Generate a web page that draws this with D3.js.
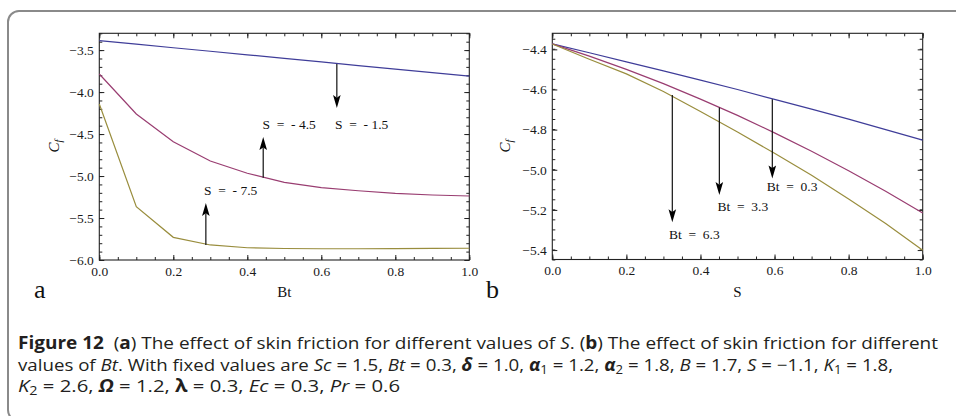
<!DOCTYPE html>
<html><head><meta charset="utf-8">
<script src="https://cdn.jsdelivr.net/npm/d3@7"></script>
<style>
html,body{margin:0;padding:0;background:#fff;}
svg{display:block;}
</style></head>
<body>
<svg id="c" width="956" height="416"></svg>
<script>
// ---------- data ----------
const btValues = [0,0.1,0.2,0.3,0.4,0.5,0.6,0.7,0.8,0.9,1.0];
const cfS15 = [-3.388,-3.430,-3.472,-3.514,-3.556,-3.598,-3.641,-3.684,-3.726,-3.768,-3.809];
const cfS45 = [-3.785,-4.261,-4.591,-4.821,-4.967,-5.075,-5.139,-5.175,-5.206,-5.226,-5.238];
const cfS75 = [-4.142,-5.365,-5.730,-5.821,-5.854,-5.863,-5.866,-5.866,-5.864,-5.862,-5.860];

const sValues = [0,0.1,0.2,0.3,0.4,0.5,0.6,0.7,0.8,0.9,1.0];
const cfBt03 = [-4.373,-4.417,-4.462,-4.507,-4.553,-4.600,-4.649,-4.698,-4.748,-4.800,-4.852];
const cfBt33 = [-4.373,-4.434,-4.500,-4.571,-4.648,-4.729,-4.816,-4.908,-5.005,-5.107,-5.215];
const cfBt63 = [-4.373,-4.449,-4.522,-4.610,-4.710,-4.812,-4.918,-5.027,-5.145,-5.268,-5.401];

const aXTicks = [0,0.2,0.4,0.6,0.8,1.0];
const aYTicks = [-6.0,-5.5,-5.0,-4.5,-4.0,-3.5];
const bXTicks = [0,0.2,0.4,0.6,0.8,1.0];
const bYTicks = [-5.4,-5.2,-5.0,-4.8,-4.6,-4.4];

const seriesColors = ["#3f3d99","#993d71","#998d3d"];

// annotations (data coordinates)
const aArrows = [
  {x:0.642, from:-3.665, to:-4.19},
  {x:0.443, from:-5.02, to:-4.535},
  {x:0.288, from:-5.82, to:-5.32}
];
const aNotes = [
  {x:0.637, y:-4.44, t:"S  =  - 1.5"},
  {x:0.441, y:-4.44, t:"S  =  - 4.5"},
  {x:0.283, y:-5.225, t:"S  =  - 7.5"}
];
const bArrows = [
  {x:0.594, from:-4.649, to:-5.043},
  {x:0.451, from:-4.690, to:-5.126},
  {x:0.324, from:-4.628, to:-5.262}
];
const bNotes = [
  {x:0.579, y:-5.107, t:"Bt  =  0.3"},
  {x:0.446, y:-5.207, t:"Bt  =  3.3"},
  {x:0.315, y:-5.345, t:"Bt  =  6.3"}
];

// ---------- drawing ----------
const svg = d3.select("#c");
const serif = '"Liberation Serif","Times New Roman",serif';

svg.append("rect").attr("x",8).attr("y",11).attr("width",980).attr("height",410)
  .attr("rx",11).attr("fill","none").attr("stroke","#8a8a8a").attr("stroke-width",2);

function range(a,b,step){const r=[];for(let v=a;v<=b+1e-9;v+=step)r.push(+v.toFixed(4));return r;}

function styleAxis(sel){
  sel.attr("font-family",serif).attr("font-size",13.5);
  sel.selectAll("text").style("font-family",serif).style("font-size","13.5px").attr("fill","#1a1a1a");
  sel.selectAll("line").attr("stroke","#222");
  sel.select(".domain").remove();
}

function panel(opt){
  const x = d3.scaleLinear().domain([0,1]).range(opt.xr);
  const y = d3.scaleLinear().domain(opt.yd).range(opt.yr);
  const g = svg.append("g");
  const [x0,x1]=opt.xr, [y0,y1]=[opt.yr[1],opt.yr[0]];
  const fmt = d3.format(".1f");
  const mfmt = v => (v<0?"\u2212":"")+fmt(Math.abs(v));
  const minorX = range(0,1,opt.xMinor);
  const minorY = range(opt.yd[0],opt.yd[1],opt.yMinor).filter(v=>v>=opt.yd[0]&&v<=opt.yd[1]);

  // minor ticks
  g.append("g").attr("transform",`translate(0,${y1})`)
    .call(d3.axisBottom(x).tickValues(minorX).tickSize(-3).tickSizeOuter(0).tickFormat("")).call(styleAxis);
  g.append("g").attr("transform",`translate(0,${y0})`)
    .call(d3.axisTop(x).tickValues(minorX).tickSize(-3).tickSizeOuter(0).tickFormat("")).call(styleAxis);
  g.append("g").attr("transform",`translate(${x0},0)`)
    .call(d3.axisLeft(y).tickValues(minorY).tickSize(-3).tickSizeOuter(0).tickFormat("")).call(styleAxis);
  g.append("g").attr("transform",`translate(${x1},0)`)
    .call(d3.axisRight(y).tickValues(minorY).tickSize(-3).tickSizeOuter(0).tickFormat("")).call(styleAxis);
  // major ticks
  g.append("g").attr("transform",`translate(0,${y1})`)
    .call(d3.axisBottom(x).tickValues(opt.xTicks).tickSize(-5).tickSizeOuter(0).tickPadding(6).tickFormat(fmt)).call(styleAxis);
  g.append("g").attr("transform",`translate(0,${y0})`)
    .call(d3.axisTop(x).tickValues(opt.xTicks).tickSize(-5).tickSizeOuter(0).tickFormat("")).call(styleAxis);
  g.append("g").attr("transform",`translate(${x0},0)`)
    .call(d3.axisLeft(y).tickValues(opt.yTicks).tickSize(-5).tickSizeOuter(0).tickPadding(5.5).tickFormat(mfmt)).call(styleAxis);
  g.append("g").attr("transform",`translate(${x1},0)`)
    .call(d3.axisRight(y).tickValues(opt.yTicks).tickSize(-5).tickSizeOuter(0).tickFormat("")).call(styleAxis);

  // frame
  g.append("rect").attr("x",x0).attr("y",y0).attr("width",x1-x0).attr("height",y1-y0)
    .attr("fill","none").attr("stroke","#222").attr("stroke-width",1.1);

  // lines
  const line = d3.line().x((d,i)=>x(opt.xs[i])).y(d=>y(d));
  opt.series.forEach((s,i)=>{
    g.append("path").attr("d",line(s)).attr("fill","none")
      .attr("stroke",seriesColors[i]).attr("stroke-width",1.2);
  });

  // arrows
  opt.arrows.forEach(a=>{
    const ax=x(a.x), ya=y(a.from), yb=y(a.to);
    const dir = yb>ya?1:-1;
    const hl=13, hw=3.8;
    g.append("line").attr("x1",ax).attr("x2",ax).attr("y1",ya).attr("y2",yb-dir*hl*0.8)
      .attr("stroke","#111").attr("stroke-width",1.2);
    g.append("path").attr("d",`M${ax},${yb}L${ax-hw},${yb-dir*hl}L${ax},${yb-dir*hl*0.8}L${ax+hw},${yb-dir*hl}Z`)
      .attr("fill","#000");
  });
  opt.notes.forEach(n=>{
    g.append("text").attr("x",x(n.x)).attr("y",y(n.y)).text(n.t)
      .attr("font-family",serif).attr("font-size",13.5).attr("fill","#111")
      .attr("xml:space","preserve");
  });

  // axis titles
  g.append("text").attr("x",(x0+x1)/2).attr("y",297).attr("text-anchor","middle")
    .attr("font-family",serif).attr("font-size",15).attr("fill","#111").text(opt.xLabel);
  const yl = g.append("text").attr("transform",`translate(${opt.ylx},146) rotate(-90)`)
    .attr("text-anchor","middle").attr("font-family",serif).attr("font-size",15)
    .attr("font-style","italic").attr("fill","#111");
  yl.append("tspan").text("C");
  yl.append("tspan").attr("font-size",10.5).attr("dy",3).text("f");
  g.append("text").attr("x",opt.letterX).attr("y",298).attr("font-family",serif)
    .attr("font-size",26).attr("fill","#111").text(opt.letter);
}

panel({xr:[99.3,469.3], yr:[260,33.3], yd:[-6.0,-3.3], xTicks:aXTicks, yTicks:aYTicks,
  xMinor:0.05, yMinor:0.1, xs:btValues, series:[cfS15,cfS45,cfS75],
  arrows:aArrows, notes:aNotes, xLabel:"Bt", ylx:59, letter:"a", letterX:34});
panel({xr:[552.3,922.7], yr:[259.5,33.3], yd:[-5.447,-4.32], xTicks:bXTicks, yTicks:bYTicks,
  xMinor:0.05, yMinor:0.05, xs:sValues, series:[cfBt03,cfBt33,cfBt63],
  arrows:bArrows, notes:bNotes, xLabel:"S", ylx:510, letter:"b", letterX:486});

// ---------- caption ----------
const capFont = '"Liberation Sans Narrow","Open Sans","Noto Sans",sans-serif';
const capLines = [
  {y:349, len:920, parts:[
    {t:"Figure 12",b:1},{t:"  ("},{t:"a",b:1},{t:") The effect of skin friction for different values of "},
    {t:"S",i:1},{t:". ("},{t:"b",b:1},{t:") The effect of skin friction for different"}]},
  {y:370.5, len:875, parts:[
    {t:"values of "},{t:"Bt",i:1},{t:". With fixed values are "},{t:"Sc",i:1},{t:" = 1.5, "},
    {t:"Bt",i:1},{t:" = 0.3, "},{t:"\u03b4",i:1,b:1},{t:" = 1.0, "},{t:"\u03b1",i:1,b:1},{t:"1",sub:1},
    {t:" = 1.2, "},{t:"\u03b1",i:1,b:1},{t:"2",sub:1},{t:" = 1.8, "},{t:"B",i:1},{t:" = 1.7, "},
    {t:"S",i:1},{t:" = \u22121.1, "},{t:"K",i:1},{t:"1",sub:1},{t:" = 1.8,"}]},
  {y:392, len:382, parts:[
    {t:"K",i:1},{t:"2",sub:1},{t:" = 2.6, "},{t:"\u03a9",i:1,b:1},{t:" = 1.2, "},{t:"\u03bb",b:1},
    {t:" = 0.3, "},{t:"Ec",i:1},{t:" = 0.3, "},{t:"Pr",i:1},{t:" = 0.6"}]}
];
capLines.forEach(L=>{
  const t = svg.append("text").attr("x",18).attr("y",L.y).attr("font-family",capFont)
    .attr("font-size",17).attr("fill","#231f20").attr("textLength",L.len)
    .attr("lengthAdjust","spacingAndGlyphs").attr("xml:space","preserve");
  let shifted=false;
  L.parts.forEach(p=>{
    const s=t.append("tspan").text(p.t);
    if(p.b) s.attr("font-weight","bold");
    if(p.i) s.attr("font-style","italic");
    if(p.sub){s.attr("dy",3).attr("font-size",12);shifted=true;}
    else if(shifted){s.attr("dy",-3);shifted=false;}
  });
});
</script>
</body></html>
